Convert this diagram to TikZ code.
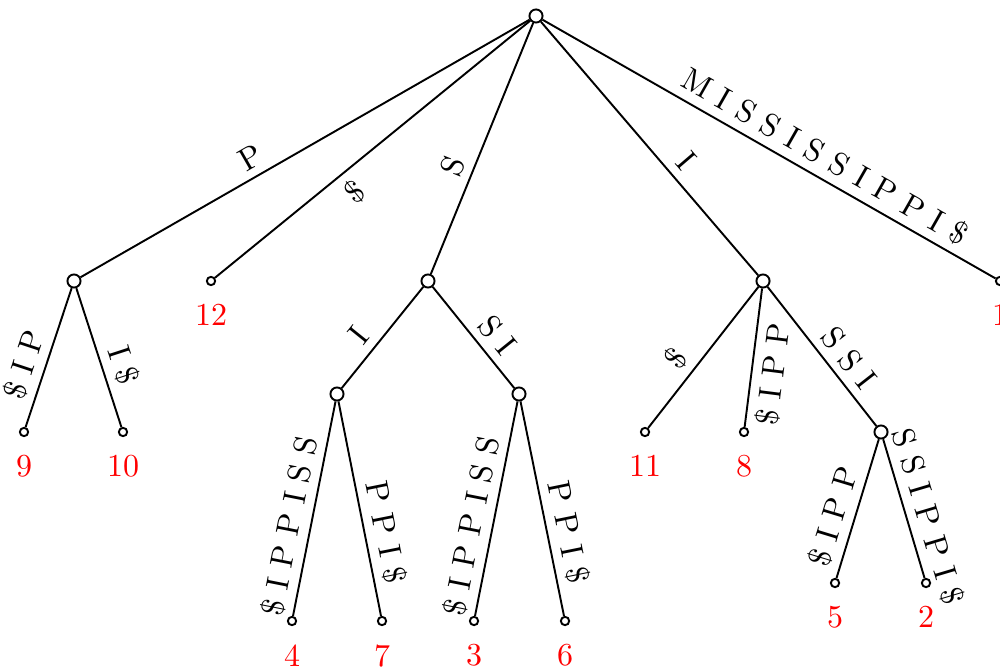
\documentclass[tikz,border=0pt]{standalone}
\usepackage{tikz}
\usetikzlibrary{positioning}
\tikzset{
  edge/.style={line width=0.6pt},
  inner/.style={circle, draw, line width=0.6pt, fill=white, inner sep=0pt, minimum size=4.1pt},
  leaf/.style={circle, draw, line width=0.6pt, fill=white, inner sep=0pt, minimum size=2.6pt},
  lab/.style={sloped, pos=0.6, inner sep=2.4pt},
  num/.style={text=red, inner sep=2pt}
}
\begin{document}
\begin{tikzpicture}[x=31.25pt,y=-31.25pt]
\useasboundingbox (0,0) rectangle (10,6.7);

% internal nodes
\node[inner] (root) at (5.36,0.16) {};
\node[inner] (p) at (0.74,2.81) {};
\node[inner] (s) at (4.28,2.81) {};
\node[inner] (i) at (7.63,2.81) {};
\node[inner] (si) at (3.37,3.94) {};
\node[inner] (ssi) at (5.19,3.94) {};
\node[inner] (issi) at (8.81,4.32) {};

% leaves
\node[leaf] (l1) at (10.0,2.81) {};
\node[leaf] (l12) at (2.11,2.81) {};
\node[leaf] (l9) at (0.24,4.32) {};
\node[leaf] (l10) at (1.23,4.32) {};
\node[leaf] (l11) at (6.45,4.32) {};
\node[leaf] (l8) at (7.44,4.32) {};
\node[leaf] (l4) at (2.92,6.21) {};
\node[leaf] (l7) at (3.82,6.21) {};
\node[leaf] (l3) at (4.74,6.21) {};
\node[leaf] (l6) at (5.65,6.21) {};
\node[leaf] (l5) at (8.35,5.83) {};
\node[leaf] (l2) at (9.26,5.83) {};

% suffix numbers
\foreach \k in {1,...,12}
  \node[num, below=3.6pt of l\k] (n\k) {\k};

% edges from the root
\draw[edge] (root) -- node[lab, above] {P} (p);
\draw[edge] (root) -- node[lab, below] {\$} (l12);
\draw[edge] (root) -- node[lab, above] {S} (s);
\draw[edge] (root) -- node[lab, above] {I} (i);
\draw[edge] (root) -- node[lab, above] {M I S S I S S I P P I \$} (l1);

% below P
\draw[edge] (p) -- node[lab, above] {\$ I P} (l9);
\draw[edge] (p) -- node[lab, above] {I \$} (l10);

% below S
\draw[edge] (s) -- node[lab, above] {I} (si);
\draw[edge] (s) -- node[lab, above] {S I} (ssi);
\draw[edge] (si) -- node[lab, above] {\$ I P P I S S} (l4);
\draw[edge] (si) -- node[lab, above, pos=0.63] {P P I \$} (l7);
\draw[edge] (ssi) -- node[lab, above] {\$ I P P I S S} (l3);
\draw[edge] (ssi) -- node[lab, above, pos=0.63] {P P I \$} (l6);

% below I
\draw[edge] (i) -- node[lab, above] {\$} (l11);
\draw[edge] (i) -- node[lab, below] {\$ I P P} (l8);
\draw[edge] (i) -- node[lab, above] {S S I} (issi);
\draw[edge] (issi) -- node[lab, above] {\$ I P P} (l5);
\draw[edge] (issi) -- node[lab, above] {S S I P P I \$} (l2);
\end{tikzpicture}
\end{document}
